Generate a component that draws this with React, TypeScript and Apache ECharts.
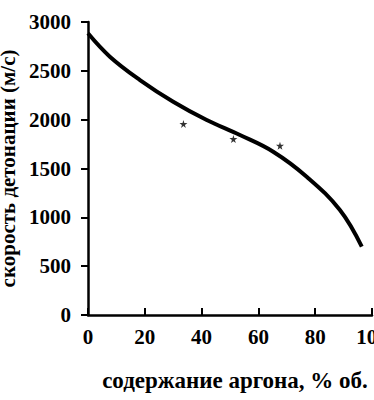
import React, { useEffect, useRef } from "react";
import * as echarts from "echarts";

const curveX = [0, 7.7, 18.3, 30.0, 41.8, 53.5, 65.2, 77.0, 88.7, 96.4];
const curveY = [2884, 2645, 2406, 2184, 1997, 1843, 1672, 1416, 1075, 699];
const pointX = [33.6, 51.2, 67.6];
const pointY = [1956, 1802, 1733];
const xTicks = [0, 20, 40, 60, 80, 100];
const yTicks = [0, 500, 1000, 1500, 2000, 2500, 3000];
const xName = "содержание аргона, % об.";
const yName = "скорость детонации (м/с)";

const STAR =
  "path://M50,0 L61,35 L98,35 L68,57 L79,91 L50,70 L21,91 L32,57 L2,35 L39,35 Z";

export default function App() {
  const ref = useRef<HTMLDivElement>(null);
  useEffect(() => {
    if (!ref.current) return;
    const chart = echarts.init(ref.current, undefined, { renderer: "svg" });
    const font = "Times New Roman";
    chart.setOption({
      animation: false,
      backgroundColor: "#fff",
      grid: { left: 88, right: 2, top: 22, bottom: 85, containLabel: false, outerBoundsMode: "none" },
      xAxis: {
        type: "value",
        min: xTicks[0],
        max: xTicks[xTicks.length - 1],
        interval: 20,
        name: xName,
        nameLocation: "middle",
        nameGap: 54,
        nameTextStyle: { fontFamily: font, fontSize: 23, fontWeight: "bold", color: "#000", padding: [0, 0, 0, 10] },
        axisLine: { lineStyle: { color: "#000", width: 2.5 } },
        axisTick: { inside: true, length: 7, lineStyle: { color: "#000", width: 2 } },
        axisLabel: { fontFamily: font, fontSize: 21, fontWeight: "bold", color: "#000", margin: 11, formatter: (v: number) => String(v) },
        splitLine: { show: false },
      },
      yAxis: {
        type: "value",
        min: yTicks[0],
        max: yTicks[yTicks.length - 1],
        interval: 500,
        name: yName,
        nameLocation: "middle",
        nameGap: 56,
        nameRotate: 90,
        nameTextStyle: { fontFamily: font, fontSize: 21, fontWeight: "bold", color: "#000" },
        axisLine: { show: true, lineStyle: { color: "#000", width: 2.5 } },
        axisTick: { show: true, inside: false, length: 7, lineStyle: { color: "#000", width: 2 } },
        axisLabel: { fontFamily: font, fontSize: 21, fontWeight: "bold", color: "#000", margin: 17, formatter: (v: number) => String(v) },
        splitLine: { show: false },
      },
      series: [
        {
          type: "line",
          data: curveX.map((x, i) => [x, curveY[i]]),
          smooth: 0.4,
          showSymbol: false,
          lineStyle: { color: "#000", width: 4 },
        },
        {
          type: "scatter",
          data: pointX.map((x, i) => [x, pointY[i]]),
          symbol: STAR,
          symbolSize: 8,
          itemStyle: { color: "#000" },
        },
      ],
    });
    return () => chart.dispose();
  }, []);
  return <div ref={ref} style={{ width: 374, height: 400, position: "fixed", left: 0, top: 0 }} />;
}
